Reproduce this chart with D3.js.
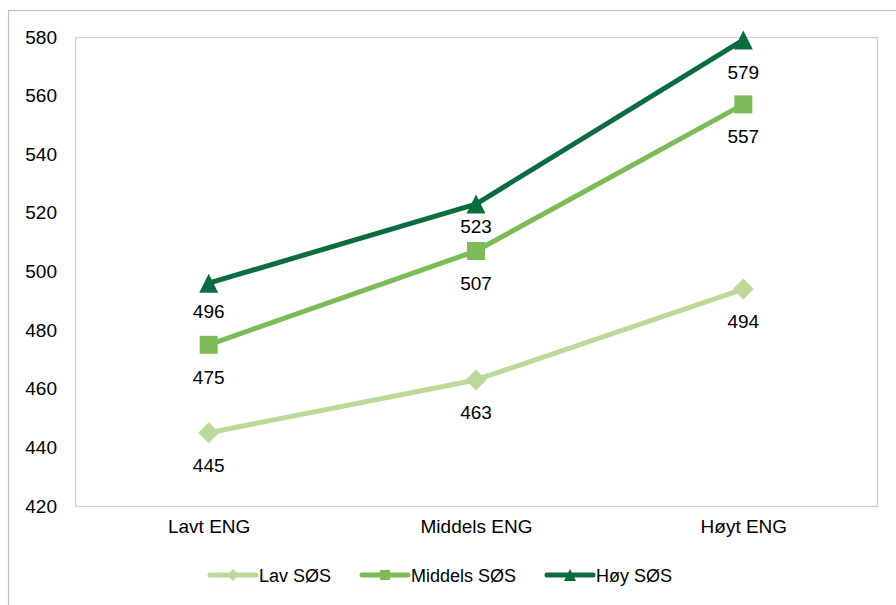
<!DOCTYPE html>
<html>
<head>
<meta charset="utf-8">
<script src="https://cdn.jsdelivr.net/npm/d3@7"></script>
<style>
  html, body { margin: 0; padding: 0; background: #fff; }
  svg { display: block; font-family: "Liberation Sans", Arial, sans-serif; }
</style>
</head>
<body>
<svg id="chart" width="896" height="605"></svg>
<script>
// Mean scores by ENG level, split by SØS group
const categories = ["Lavt ENG", "Middels ENG", "Høyt ENG"];
const lavSOS = [445, 463, 494];
const middelsSOS = [475, 507, 557];
const hoySOS = [496, 523, 579];
const seriesNames = ["Lav SØS", "Middels SØS", "Høy SØS"];
const yTicks = [420, 440, 460, 480, 500, 520, 540, 560, 580];

// marker shapes, centred on the origin, r = half extent
const shapes = {
  diamond: r => `M0,${-r}L${r},0L0,${r}L${-r},0Z`,
  square: r => `M${-r},${-r}H${r}V${r}H${-r}Z`,
  triangle: r => `M0,${-r}L${r},${r}L${-r},${r}Z`
};

const series = [
  { name: seriesNames[0], values: lavSOS, color: "#bcd999", shape: "diamond", r: 10.5, lr: 6 },
  { name: seriesNames[1], values: middelsSOS, color: "#7dbb59", shape: "square", r: 9, lr: 5 },
  { name: seriesNames[2], values: hoySOS, color: "#0b6c3f", shape: "triangle", r: 9.5, lr: 6 }
];

const svg = d3.select("#chart");
const plot = { left: 75, top: 37, right: 877, bottom: 506 };
const font = "Liberation Sans, Arial, sans-serif";

// outer chart frame
svg.append("rect")
  .attr("x", 8.5).attr("y", 10.5).attr("width", 900).attr("height", 620)
  .attr("fill", "none").attr("stroke", "#bfbfbf").attr("stroke-width", 1.2);

const x = d3.scalePoint().domain(categories).range([plot.left, plot.right]).padding(0.5);
const y = d3.scaleLinear().domain([420, 580]).range([plot.bottom, plot.top]);

// plot area border
svg.append("rect")
  .attr("x", plot.left + 0.5).attr("y", plot.top + 0.5)
  .attr("width", plot.right - plot.left).attr("height", plot.bottom - plot.top)
  .attr("fill", "none").attr("stroke", "#d0d0d0").attr("stroke-width", 1.3);

// y axis labels
const yAxis = svg.append("g")
  .attr("transform", `translate(${plot.left},0)`)
  .call(d3.axisLeft(y).tickValues(yTicks).tickSize(0).tickPadding(18));
yAxis.select(".domain").remove();
yAxis.selectAll("text").attr("font-size", 19).attr("fill", "#000").attr("font-family", font);

// x axis labels
const xAxis = svg.append("g")
  .attr("transform", `translate(0,${plot.bottom})`)
  .call(d3.axisBottom(x).tickSize(0).tickPadding(14));
xAxis.select(".domain").remove();
xAxis.selectAll("text").attr("font-size", 19).attr("fill", "#000").attr("font-family", font);

const line = d3.line().x((d, i) => x(categories[i])).y(d => y(d));

// value labels sit below each marker; two are nudged up to clear the line above
const labelDy = 39;
const labelNudge = { "Høy SØS|Lavt ENG": -4, "Høy SØS|Middels ENG": -10 };

series.forEach(s => {
  svg.append("path")
    .datum(s.values)
    .attr("d", line)
    .attr("fill", "none")
    .attr("stroke", s.color)
    .attr("stroke-width", 5)
    .attr("stroke-linejoin", "round")
    .attr("stroke-linecap", "round");

  svg.selectAll(null)
    .data(s.values)
    .join("path")
    .attr("transform", (d, i) => `translate(${x(categories[i])},${y(d)})`)
    .attr("d", shapes[s.shape](s.r))
    .attr("fill", s.color);

  svg.selectAll(null)
    .data(s.values)
    .join("text")
    .attr("x", (d, i) => x(categories[i]))
    .attr("y", (d, i) => y(d) + labelDy + (labelNudge[s.name + "|" + categories[i]] || 0))
    .attr("text-anchor", "middle")
    .attr("font-size", 19)
    .attr("fill", "#000")
    .text(d => d);
});

// legend
const legendX = [210, 362, 547];
const legendY = 575;
series.forEach((s, i) => {
  const g = svg.append("g").attr("transform", `translate(${legendX[i]},${legendY})`);
  g.append("line")
    .attr("x1", 0).attr("x2", 46).attr("y1", 0).attr("y2", 0)
    .attr("stroke", s.color).attr("stroke-width", 5).attr("stroke-linecap", "round");
  g.append("path")
    .attr("transform", "translate(23,0)")
    .attr("d", shapes[s.shape](s.lr))
    .attr("fill", s.color);
  g.append("text")
    .attr("x", 49).attr("y", 6.5)
    .attr("font-size", 18).attr("fill", "#000").attr("font-family", font)
    .text(s.name);
});
</script>
</body>
</html>
